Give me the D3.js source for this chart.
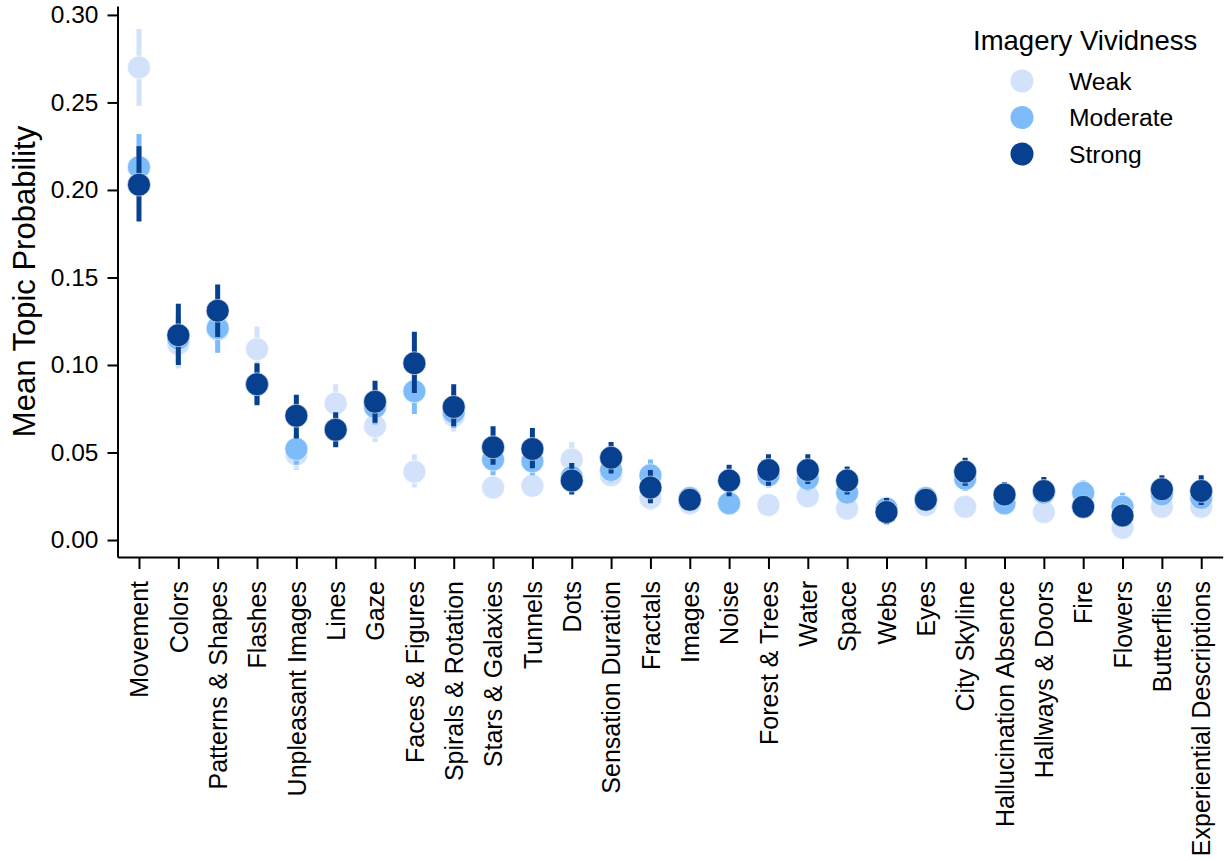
<!DOCTYPE html>
<html>
<head>
<meta charset="utf-8">
<script src="https://cdn.jsdelivr.net/npm/d3@7/dist/d3.min.js"></script>
<style>
  html, body { margin: 0; padding: 0; background: #fff; }
  svg { display: block; font-family: "Liberation Sans", Arial, Helvetica, sans-serif; }
</style>
</head>
<body>
<svg id="chart" width="1225" height="861"></svg>
<script>
// Topics, ordered as on the x axis
const categories = [
  "Movement", "Colors", "Patterns & Shapes", "Flashes", "Unpleasant Images",
  "Lines", "Gaze", "Faces & Figures", "Spirals & Rotation", "Stars & Galaxies",
  "Tunnels", "Dots", "Sensation Duration", "Fractals", "Images", "Noise",
  "Forest & Trees", "Water", "Space", "Webs", "Eyes", "City Skyline",
  "Hallucination Absence", "Hallways & Doors", "Fire", "Flowers",
  "Butterflies", "Experiential Descriptions"
];

// Mean topic probability per vividness group
const weakMean = [0.270, 0.112, 0.120, 0.109, 0.049, 0.078, 0.065, 0.039, 0.071, 0.030,
  0.031, 0.046, 0.037, 0.024, 0.021, 0.021, 0.020, 0.025, 0.018, 0.016,
  0.020, 0.019, 0.021, 0.016, 0.026, 0.007, 0.019, 0.019];
const moderateMean = [0.213, 0.115, 0.121, 0.089, 0.052, 0.063, 0.076, 0.085, 0.073, 0.046,
  0.045, 0.036, 0.040, 0.037, 0.024, 0.021, 0.037, 0.035, 0.027, 0.018,
  0.024, 0.035, 0.021, 0.027, 0.027, 0.019, 0.026, 0.024];
const strongMean = [0.203, 0.117, 0.131, 0.089, 0.071, 0.063, 0.079, 0.101, 0.076, 0.053,
  0.052, 0.034, 0.047, 0.030, 0.023, 0.034, 0.040, 0.040, 0.034, 0.016,
  0.023, 0.039, 0.026, 0.028, 0.019, 0.014, 0.029, 0.028];

// 95% confidence intervals (lower / upper)
const weakLo = [0.248, 0.098, 0.107, 0.097, 0.040, 0.068, 0.056, 0.030, 0.062, 0.024,
  0.026, 0.037, 0.031, 0.017, 0.016, 0.016, 0.015, 0.019, 0.013, 0.012,
  0.015, 0.013, 0.016, 0.011, 0.020, 0.003, 0.014, 0.014];
const weakHi = [0.292, 0.126, 0.133, 0.122, 0.058, 0.089, 0.074, 0.049, 0.081, 0.035,
  0.036, 0.056, 0.044, 0.031, 0.026, 0.026, 0.025, 0.031, 0.023, 0.021,
  0.025, 0.024, 0.026, 0.021, 0.033, 0.011, 0.024, 0.024];
const moderateLo = [0.196, 0.101, 0.107, 0.078, 0.043, 0.054, 0.066, 0.072, 0.064, 0.037,
  0.037, 0.028, 0.033, 0.029, 0.019, 0.016, 0.030, 0.028, 0.021, 0.013,
  0.019, 0.028, 0.016, 0.021, 0.021, 0.013, 0.020, 0.018];
const moderateHi = [0.232, 0.129, 0.134, 0.100, 0.061, 0.072, 0.086, 0.098, 0.083, 0.055,
  0.053, 0.044, 0.047, 0.046, 0.029, 0.026, 0.044, 0.042, 0.034, 0.023,
  0.030, 0.042, 0.027, 0.033, 0.034, 0.027, 0.032, 0.031];
const strongLo = [0.182, 0.100, 0.116, 0.077, 0.058, 0.053, 0.067, 0.084, 0.065, 0.043,
  0.041, 0.026, 0.038, 0.021, 0.018, 0.025, 0.031, 0.032, 0.026, 0.009,
  0.018, 0.031, 0.020, 0.022, 0.013, 0.008, 0.023, 0.020];
const strongHi = [0.225, 0.135, 0.146, 0.101, 0.083, 0.073, 0.091, 0.119, 0.089, 0.065,
  0.064, 0.044, 0.056, 0.040, 0.029, 0.043, 0.049, 0.049, 0.042, 0.024,
  0.029, 0.047, 0.033, 0.036, 0.025, 0.020, 0.037, 0.037];

const groupNames = ["Weak", "Moderate", "Strong"];
const groupColors = ["#d3e2fb", "#7dbcf9", "#06408f"];
const yTicks = [0.00, 0.05, 0.10, 0.15, 0.20, 0.25, 0.30];

const groups = [
  { name: groupNames[0], color: groupColors[0], mean: weakMean, lo: weakLo, hi: weakHi },
  { name: groupNames[1], color: groupColors[1], mean: moderateMean, lo: moderateLo, hi: moderateHi },
  { name: groupNames[2], color: groupColors[2], mean: strongMean, lo: strongLo, hi: strongHi }
];

const svg = d3.select("#chart");
const plotLeft = 117.5, plotRight = 1222.7, plotTop = 6, plotBottom = 557;
const fontStack = "'Liberation Sans', Arial, Helvetica, sans-serif";

const x = d3.scalePoint().domain(categories).range([plotLeft, plotRight]).padding(0.546);
const y = d3.scaleLinear().domain([-0.0097, 0.3051]).range([plotBottom, plotTop]);

// Y axis
const yAxis = svg.append("g")
  .attr("transform", `translate(${plotLeft},0)`)
  .call(d3.axisLeft(y).tickValues(yTicks).tickFormat(d3.format(".2f"))
    .tickSize(10).tickSizeOuter(0).tickPadding(9));
yAxis.selectAll("text").attr("font-size", 24.5).attr("fill", "#000")
  .attr("font-family", fontStack);
yAxis.selectAll("line, path").attr("stroke", "#000").attr("stroke-width", 2);

// X axis
const xAxis = svg.append("g")
  .attr("transform", `translate(0,${plotBottom})`)
  .call(d3.axisBottom(x).tickSize(12).tickSizeOuter(0));
xAxis.selectAll("line, path").attr("stroke", "#000").attr("stroke-width", 2);
xAxis.selectAll("text")
  .attr("font-size", 25).attr("fill", "#000")
  .attr("font-family", fontStack)
  .attr("transform", "rotate(-90)")
  .attr("text-anchor", "end")
  .attr("x", -24).attr("y", 0).attr("dy", "0.35em");

// Y axis title
svg.append("text")
  .attr("transform", `translate(24,${(plotTop + plotBottom) / 2}) rotate(-90)`)
  .attr("text-anchor", "middle")
  .attr("dy", "0.35em")
  .attr("font-size", 31)
  .attr("fill", "#000")
  .text("Mean Topic Probability");

// Error bars and points, one layer per vividness group
groups.forEach(g => {
  const layer = svg.append("g");
  layer.selectAll("line")
    .data(categories)
    .join("line")
    .attr("x1", d => x(d)).attr("x2", d => x(d))
    .attr("y1", (d, i) => y(g.lo[i])).attr("y2", (d, i) => y(g.hi[i]))
    .attr("stroke", g.color).attr("stroke-width", 5);
  layer.selectAll("circle")
    .data(categories)
    .join("circle")
    .attr("cx", d => x(d))
    .attr("cy", (d, i) => y(g.mean[i]))
    .attr("r", 11.5)
    .attr("fill", g.color)
    .attr("stroke", "#fff").attr("stroke-width", 0.6);
});

// Legend
const legend = svg.append("g");
legend.append("text")
  .attr("x", 973).attr("y", 50)
  .attr("font-size", 27.5).attr("fill", "#000")
  .text("Imagery Vividness");
groups.forEach((g, i) => {
  const cy = 81 + i * 36.5;
  legend.append("circle").attr("cx", 1022).attr("cy", cy).attr("r", 11.5).attr("fill", g.color);
  legend.append("text").attr("x", 1069).attr("y", cy).attr("dy", "0.35em")
    .attr("font-size", 24.7).attr("fill", "#000").text(g.name);
});
</script>
</body>
</html>
